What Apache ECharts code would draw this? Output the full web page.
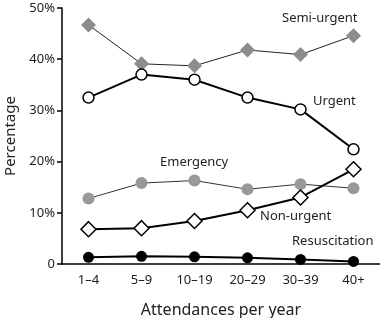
<!DOCTYPE html>
<html><head><meta charset="utf-8">
<script src="https://cdn.jsdelivr.net/npm/echarts@6/dist/echarts.min.js"></script>
<style>html,body{margin:0;padding:0;background:#fff}#c{width:380px;height:318px}</style>
</head><body><div id="c"></div>
<script>
const categories = ['1\u20134','5\u20139','10\u201319','20\u201329','30\u201339','40+'];
const semiUrgent = [46.7, 39.1, 38.7, 41.8, 40.9, 44.6];
const urgent = [32.5, 37.0, 36.0, 32.5, 30.2, 22.4];
const emergency = [12.8, 15.8, 16.3, 14.6, 15.6, 14.8];
const nonUrgent = [6.8, 7.0, 8.4, 10.5, 13.0, 18.5];
const resuscitation = [1.3, 1.5, 1.4, 1.2, 0.9, 0.5];
const yTicks = [0, 10, 20, 30, 40, 50];

const font = 'Noto Sans';
const chart = echarts.init(document.getElementById('c'));
function txt(x, y, s) {
  return {type:'text', left:x, top:y, style:{text:s, font:'13px "' + font + '"', fill:'#222'}};
}
chart.setOption({
  animation:false,
  grid:{left:62, right:0, top:8, bottom:54, containLabel:false, outerBoundsMode:'none'},
  xAxis:{type:'category', data:categories, boundaryGap:true,
    axisLine:{lineStyle:{color:'#000', width:1.5}}, axisTick:{show:false},
    axisLabel:{color:'#222', fontSize:13, fontFamily:font, margin:10},
    name:'Attendances per year', nameLocation:'middle', nameGap:38,
    nameTextStyle:{color:'#222', fontSize:16, fontFamily:font}},
  yAxis:{type:'value', min:yTicks[0], max:yTicks[yTicks.length-1], interval:10,
    axisLine:{show:true, lineStyle:{color:'#000', width:1.5}},
    axisTick:{show:true, length:5, lineStyle:{color:'#000', width:1.5}},
    splitLine:{show:false},
    axisLabel:{color:'#222', fontSize:13, fontFamily:font, margin:7,
      formatter:v => v === 0 ? '0' : v + '%'},
    name:'Percentage', nameLocation:'middle', nameGap:44,
    nameTextStyle:{color:'#222', fontSize:15, fontFamily:font}},
  series:[
    {type:'line', data:semiUrgent, symbol:'diamond', symbolSize:15,
      lineStyle:{color:'#222', width:1}, itemStyle:{color:'#8c8c8c', borderWidth:0}, z:2},
    {type:'line', data:urgent, symbol:'circle', symbolSize:11,
      lineStyle:{color:'#000', width:2}, itemStyle:{color:'#fff', borderColor:'#000', borderWidth:1.5}, z:3},
    {type:'line', data:emergency, symbol:'circle', symbolSize:12,
      lineStyle:{color:'#333', width:1}, itemStyle:{color:'#999', borderWidth:0}, z:2},
    {type:'line', data:nonUrgent, symbol:'diamond', symbolSize:15,
      lineStyle:{color:'#000', width:2}, itemStyle:{color:'#fff', borderColor:'#000', borderWidth:1.5}, z:3},
    {type:'line', data:resuscitation, symbol:'circle', symbolSize:11,
      lineStyle:{color:'#000', width:2}, itemStyle:{color:'#000', borderWidth:0}, z:3}
  ],
  graphic:[
    txt(282, 12, 'Semi-urgent'),
    txt(313, 95, 'Urgent'),
    txt(160, 156, 'Emergency'),
    txt(260, 210, 'Non-urgent'),
    txt(292, 235, 'Resuscitation')
  ]
});
</script></body></html>
